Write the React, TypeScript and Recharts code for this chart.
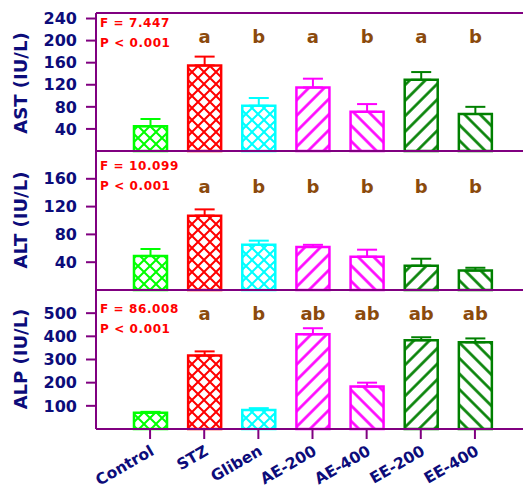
import { BarChart, Bar, XAxis, YAxis, ErrorBar, LabelList, Cell, ReferenceLine } from 'recharts';

const groups = ['Control', 'STZ', 'Gliben', 'AE-200', 'AE-400', 'EE-200', 'EE-400'];

// AST (IU/L)
const astMean = [45, 155, 82, 115, 71, 129, 67];
const astSem = [13, 16, 14, 16, 14, 14, 13];
const astSig = ['', 'a', 'b', 'a', 'b', 'a', 'b'];

// ALT (IU/L)
const altMean = [49, 107, 65, 62, 48, 35, 28];
const altSem = [10, 9, 6, 3, 10, 10, 4];
const altSig = ['', 'a', 'b', 'b', 'b', 'b', 'b'];

// ALP (IU/L)
const alpMean = [70, 317, 82, 409, 183, 383, 374];
const alpSem = [4, 18, 8, 26, 17, 13, 17];
const alpSig = ['', 'a', 'b', 'ab', 'ab', 'ab', 'ab'];

const astTicks = [40, 80, 120, 160, 200, 240];
const altTicks = [40, 80, 120, 160];
const alpTicks = [100, 200, 300, 400, 500];

const PURPLE = '#800080';
const NAVY = '#0c0c7a';
const BROWN = '#8b4a0c';
const FONT = 'DejaVu Sans';

const colors = ['#00ff00', '#ff0000', '#00ffff', '#ff00ff', '#ff00ff', '#008000', '#008000'];
const fills = ['url(#xg)', 'url(#xr)', 'url(#xc)', 'url(#fm)', 'url(#bm)', 'url(#fg)', 'url(#bg)'];

function build(mean: number[], sem: number[], sig: string[]) {
  return groups.map((group, i) => ({ group, mean: mean[i], err: [0, sem[i]], sig: sig[i] }));
}

const astData = build(astMean, astSem, astSig);
const altData = build(altMean, altSem, altSig);
const alpData = build(alpMean, alpSem, alpSig);

function Cross({ id, color }: { id: string; color: string }) {
  return (
    <pattern id={id} width="12" height="12" patternUnits="userSpaceOnUse">
      <rect width="12" height="12" fill="#fff" />
      <path d="M0,0 L12,12 M12,0 L0,12" stroke={color} strokeWidth={2} />
    </pattern>
  );
}

function Stripe({ id, color, angle }: { id: string; color: string; angle: number }) {
  return (
    <pattern id={id} width="11" height="11" patternUnits="userSpaceOnUse" patternTransform={`rotate(${angle})`}>
      <rect width="11" height="11" fill="#fff" />
      <line x1="5.5" y1="0" x2="5.5" y2="11" stroke={color} strokeWidth={2.6} />
    </pattern>
  );
}

function GroupTick({ x, y, payload }: any) {
  const tx = x + 5;
  const ty = y + 13;
  return (
    <text
      x={tx}
      y={ty}
      transform={`rotate(-30, ${tx}, ${ty})`}
      textAnchor="end"
      fill={NAVY}
      fontSize={15.5}
      fontWeight="bold"
      fontFamily={FONT}
    >
      {payload.value}
    </text>
  );
}

const tickStyle = { fontSize: 16, fontWeight: 'bold', fill: NAVY, fontFamily: FONT };

interface PanelProps {
  data: ReturnType<typeof build>;
  top: number;
  height: number;
  margin: { top: number; right: number; bottom: number; left: number };
  max: number;
  ticks: number[];
  title: string;
  titleY: number;
  fText: string;
  fY: number;
  sigY: number;
  bottomAxis?: boolean;
}

function Panel({ data, top, height, margin, max, ticks, title, titleY, fText, fY, sigY, bottomAxis }: PanelProps) {
  return (
    <div style={{ position: 'absolute', left: 0, top }}>
      <BarChart width={523} height={height} data={data} margin={margin}>
        <XAxis
          dataKey="group"
          padding={{ left: 27, right: 21 }}
          axisLine={{ stroke: PURPLE, strokeWidth: 2 }}
          tickLine={bottomAxis ? { stroke: PURPLE, strokeWidth: 2 } : false}
          tickSize={10}
          tick={bottomAxis ? <GroupTick /> : false}
          height={bottomAxis ? 62 : 0}
          interval={0}
        />
        <YAxis
          domain={[0, max]}
          ticks={ticks}
          interval={0}
          width={96}
          axisLine={{ stroke: PURPLE, strokeWidth: 2 }}
          tickLine={{ stroke: PURPLE, strokeWidth: 2 }}
          tickSize={10}
          tickMargin={9}
          tick={tickStyle}
        />
        <ReferenceLine y={max} stroke={PURPLE} strokeWidth={2} />
        <Bar dataKey="mean" barSize={33} strokeWidth={2.5} isAnimationActive={false}>
          {data.map((d, i) => (
            <Cell key={d.group} fill={fills[i]} stroke={colors[i]} />
          ))}
          {groups.map((g, i) => (
            <ErrorBar
              key={g}
              dataKey={(d: any) => (d.group === g ? d.err : undefined)}
              direction="y"
              width={10}
              stroke={colors[i]}
              strokeWidth={2}
              isAnimationActive={false}
            />
          ))}
          <LabelList
            dataKey="sig"
            content={(p: any) => (
              <text
                x={p.x + p.width / 2}
                y={sigY}
                textAnchor="middle"
                fill={BROWN}
                fontSize={18}
                fontWeight="bold"
                fontFamily={FONT}
              >
                {p.value}
              </text>
            )}
          />
        </Bar>
        <text
          x={27}
          y={titleY}
          transform={`rotate(-90, 27, ${titleY})`}
          textAnchor="middle"
          fill={NAVY}
          fontSize={18}
          fontWeight="bold"
          fontFamily={FONT}
        >
          {title}
        </text>
        <text x={100} y={fY} fill="#ff0000" fontSize={12} fontWeight="bold" fontFamily={FONT} letterSpacing={0.6}>
          {fText}
        </text>
        <text x={100} y={fY + 20} fill="#ff0000" fontSize={12} fontWeight="bold" fontFamily={FONT} letterSpacing={0.6}>
          P &lt; 0.001
        </text>
      </BarChart>
    </div>
  );
}

export default function App() {
  return (
    <div
      style={{
        position: 'absolute',
        left: 0,
        top: 0,
        width: 523,
        height: 491,
        overflow: 'hidden',
        background: '#fff',
      }}
    >
      <svg width={0} height={0} style={{ position: 'absolute' }}>
        <defs>
          <Cross id="xg" color={colors[0]} />
          <Cross id="xr" color={colors[1]} />
          <Cross id="xc" color={colors[2]} />
          <Stripe id="fm" color={colors[3]} angle={45} />
          <Stripe id="bm" color={colors[4]} angle={-45} />
          <Stripe id="fg" color={colors[5]} angle={45} />
          <Stripe id="bg" color={colors[6]} angle={-45} />
        </defs>
      </svg>
      <Panel
        data={astData}
        top={0}
        height={160}
        margin={{ top: 13, right: 0, bottom: 9, left: 0 }}
        max={250}
        ticks={astTicks}
        title="AST (IU/L)"
        titleY={83}
        fText="F = 7.447"
        fY={27}
        sigY={43}
      />
      <Panel
        data={altData}
        top={140}
        height={160}
        margin={{ top: 11, right: 0, bottom: 10, left: 0 }}
        max={200}
        ticks={altTicks}
        title="ALT (IU/L)"
        titleY={80}
        fText="F = 10.099"
        fY={30}
        sigY={53}
      />
      <Panel
        data={alpData}
        top={280}
        height={211}
        margin={{ top: 10, right: 0, bottom: 0, left: 0 }}
        max={600}
        ticks={alpTicks}
        title="ALP (IU/L)"
        titleY={79}
        fText="F = 86.008"
        fY={33}
        sigY={40}
        bottomAxis
      />
    </div>
  );
}
